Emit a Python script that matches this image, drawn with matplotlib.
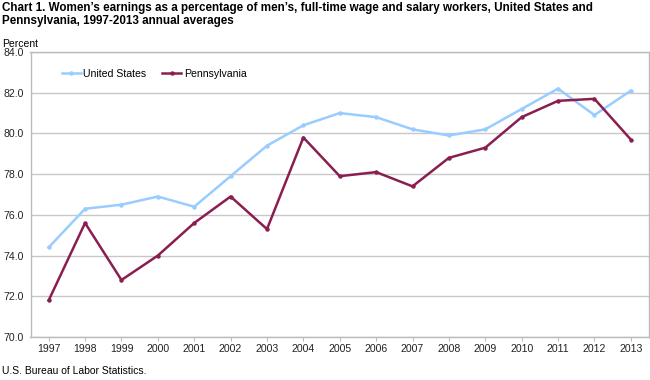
import matplotlib
matplotlib.use("Agg")
import matplotlib.pyplot as plt

years = ["1997", "1998", "1999", "2000", "2001", "2002", "2003", "2004", "2005",
         "2006", "2007", "2008", "2009", "2010", "2011", "2012", "2013"]
us = [74.4, 76.3, 76.5, 76.9, 76.4, 77.9, 79.4, 80.4, 81.0, 80.8, 80.2, 79.9,
      80.2, 81.2, 82.2, 80.9, 82.1]
pa = [71.8, 75.6, 72.8, 74.0, 75.6, 76.9, 75.3, 79.8, 77.9, 78.1, 77.4, 78.8,
      79.3, 80.8, 81.6, 81.7, 79.7]
yticks = [70.0, 72.0, 74.0, 76.0, 78.0, 80.0, 82.0, 84.0]

plt.rcParams['font.family'] = ['Liberation Sans', 'DejaVu Sans']

fig = plt.figure(figsize=(6.5, 3.8), dpi=100)
ax = fig.add_axes([30.5 / 650, 1 - 337 / 380, (649 - 30.5) / 650, (337 - 52) / 380])

x = list(range(len(years)))
ax.plot(x, us, color="#99CCFF", lw=1.8, marker="o", ms=2.2, label="United States", zorder=3)
ax.plot(x, pa, color="#8B1E50", lw=1.8, marker="o", ms=2.2, label="Pennsylvania", zorder=4)

ax.set_xlim(-0.5, len(years) - 0.5)
ax.set_ylim(70, 84)
ax.set_yticks(yticks)
ax.set_yticklabels([f"{v:.1f}" for v in yticks], fontsize=7.6, color="#222222")
ax.set_xticks(x)
ax.set_xticklabels(years, fontsize=7.6, color="#222222")
ax.tick_params(axis="y", length=0, pad=5)
ax.tick_params(axis="x", length=3, color="#BBBBBB", pad=2, direction="out")
ax.grid(axis="y", color="#C8C8C8", lw=1)
ax.set_axisbelow(True)
for s in ax.spines.values():
    s.set_color("#BBBBBB")
    s.set_linewidth(1)

leg = ax.legend(loc="upper left", bbox_to_anchor=(0.035, 0.975), ncol=2, frameon=False,
                fontsize=7.6, handlelength=1.8, handletextpad=0.25, columnspacing=1.5)

fig.text(0.003, 0.995, "Chart 1. Women\u2019s earnings as a percentage of men\u2019s, full-time wage and salary workers, United States and\nPennsylvania, 1997-2013 annual averages",
         fontsize=8.4, fontweight="bold", va="top", ha="left", linespacing=1.15)
fig.text(0.003, 1 - 44 / 380, "Percent", fontsize=7.5, va="center", ha="left")
fig.text(0.003, 1 - 371 / 380, "U.S. Bureau of Labor Statistics.", fontsize=7.5, va="center", ha="left")

fig.savefig("out.png", dpi=100)
